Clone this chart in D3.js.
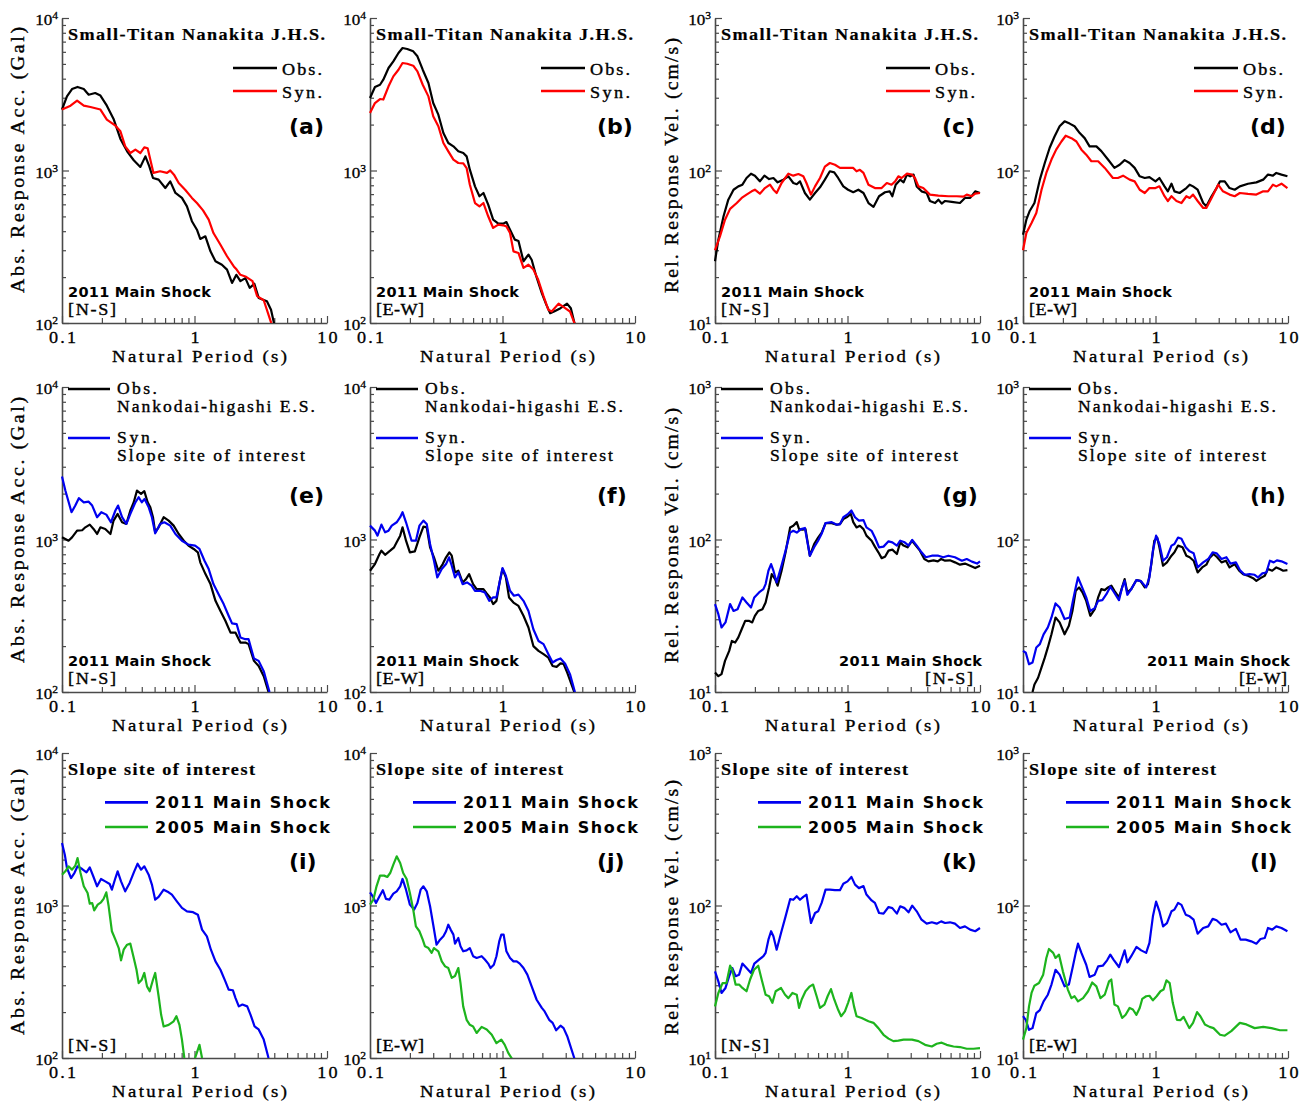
<!DOCTYPE html>
<html>
<head>
<meta charset="utf-8">
<script src="https://cdn.jsdelivr.net/npm/d3@7"></script>
<style>
  body { margin: 0; background: #fff; }
  svg { display: block; }
</style>
</head>
<body>
<svg id="fig" width="1311" height="1106"></svg>
<script>
// ---------------------------------------------------------------
// Response spectra (h = 5%), natural period [s] vs. spectral value
// ---------------------------------------------------------------
const periodTicks = [0.1, 1, 10];
const periodTickLabels = ["0.1", "1", "10"];
const accDomain = [100, 10000];   // Gal
const velDomain = [10, 1000];     // cm/s

// (a) Small-Titan Nanakita J.H.S., absolute acceleration, N-S
const aObs = [[0.1,2510],[0.109,3060],[0.119,3420],[0.131,3530],[0.146,3420],[0.159,3140],[0.178,3220],[0.195,3100],[0.218,2660],[0.245,2180],[0.276,1610],[0.31,1336],[0.348,1167],[0.39,1055],[0.426,1238],[0.456,1065],[0.486,893],[0.536,871],[0.602,768],[0.656,849],[0.718,712],[0.804,661],[0.877,582],[0.956,465],[1.043,409],[1.105,356],[1.208,370],[1.32,295],[1.44,254],[1.61,241],[1.76,224],[1.92,183],[2.07,207],[2.22,188],[2.42,197],[2.61,170],[2.83,181],[3.05,146],[3.52,139],[3.78,122],[4.0,98]];
const aSyn = [[0.1,2510],[0.116,2660],[0.13,2870],[0.146,2660],[0.164,2610],[0.195,2510],[0.218,2155],[0.253,1968],[0.276,1807],[0.3,1440],[0.328,1302],[0.358,1371],[0.39,1302],[0.418,1419],[0.443,1400],[0.49,964],[0.55,988],[0.62,964],[0.656,1000],[0.7,939],[0.76,828],[0.85,748],[0.956,661],[1.043,612],[1.16,548],[1.28,476],[1.39,389],[1.57,326],[1.76,274],[1.98,235],[2.08,224],[2.22,207],[2.42,202],[2.74,188],[2.97,150],[3.33,141],[3.78,101],[3.84,98]];

// (b) Small-Titan Nanakita J.H.S., absolute acceleration, E-W
const bObs = [[0.1,2985],[0.109,3530],[0.119,3650],[0.126,3940],[0.138,4700],[0.15,5200],[0.164,5895],[0.176,6355],[0.191,6265],[0.212,6045],[0.228,5610],[0.25,4580],[0.276,3750],[0.3,2770],[0.328,2323],[0.358,1762],[0.39,1514],[0.426,1440],[0.464,1336],[0.506,1302],[0.536,1238],[0.567,1013],[0.62,787],[0.67,678],[0.718,712],[0.78,597],[0.85,476],[0.93,448],[1.01,448],[1.07,459],[1.14,409],[1.24,352],[1.32,345],[1.44,254],[1.57,281],[1.66,260],[1.8,202],[1.98,157],[2.14,132],[2.29,116],[2.45,119],[2.74,125],[3.07,134],[3.28,125],[3.48,101],[3.52,97]];
const bSyn = [[0.1,2382],[0.109,2770],[0.119,2942],[0.126,2920],[0.138,3565],[0.15,4143],[0.164,4580],[0.176,5070],[0.191,5010],[0.212,4867],[0.228,4467],[0.25,3650],[0.276,3062],[0.3,2265],[0.328,1950],[0.358,1514],[0.39,1336],[0.426,1178],[0.464,1120],[0.506,1112],[0.536,1038],[0.567,807],[0.62,612],[0.67,582],[0.718,612],[0.78,501],[0.85,420],[0.93,442],[1.01,437],[1.07,430],[1.14,389],[1.21,295],[1.32,288],[1.44,230],[1.57,241],[1.71,224],[1.86,192],[2.04,150],[2.22,122],[2.35,119],[2.65,134],[2.97,125],[3.23,119],[3.52,98]];

// (c) Small-Titan Nanakita J.H.S., relative velocity, N-S
const cObs = [[0.1,25.4],[0.106,35.2],[0.116,50.1],[0.126,64.4],[0.138,74.8],[0.15,78.7],[0.161,80.7],[0.173,89.3],[0.187,95.3],[0.2,92.5],[0.218,84.9],[0.236,92.5],[0.256,87.9],[0.276,89.3],[0.297,83.6],[0.328,87.1],[0.358,91.6],[0.39,82.8],[0.414,81.3],[0.438,84.9],[0.477,71.2],[0.52,64.4],[0.569,71.2],[0.62,77.6],[0.675,87.1],[0.736,98.8],[0.794,97.2],[0.85,89.3],[0.93,78.7],[1.01,74.8],[1.105,72],[1.208,74.8],[1.32,71.2],[1.44,61.2],[1.57,57.7],[1.73,67.8],[1.92,72],[2.08,73],[2.18,67.8],[2.31,80.7],[2.5,87.1],[2.65,83.6],[2.81,94],[2.97,91.6],[3.15,94],[3.33,78.7],[3.62,73],[3.96,71.2],[4.19,63.1],[4.58,61.2],[4.85,64.4],[5.14,60.7],[5.45,63.1],[6.11,62.3],[7.06,61.2],[7.7,66.1],[8.43,66.1],[9.2,73],[10,71.2]];
const cSyn = [[0.1,30],[0.109,37],[0.119,47.6],[0.13,56],[0.146,61.2],[0.159,66.1],[0.173,69.5],[0.189,73],[0.2,74.8],[0.218,70.5],[0.238,76.7],[0.26,80.7],[0.276,74.8],[0.292,71.2],[0.318,82.8],[0.358,95.3],[0.39,92.5],[0.426,94.8],[0.464,91.6],[0.49,82.8],[0.53,69.5],[0.569,78.7],[0.62,89.3],[0.675,106],[0.736,112],[0.804,109],[0.877,104],[0.98,104],[1.105,104],[1.17,98.8],[1.24,101],[1.32,96.4],[1.44,80.7],[1.61,76.7],[1.81,76.7],[1.98,82.8],[2.15,80.7],[2.29,84.9],[2.42,91.6],[2.56,89.3],[2.81,95.3],[3.07,94],[3.23,89.3],[3.43,78.7],[3.73,76.7],[4.19,69.5],[4.85,68.4],[5.77,67.8],[6.68,67.8],[7.5,67.4],[7.94,69.5],[8.69,67.8],[9.2,70.5],[10,71.2]];

// (d) Small-Titan Nanakita J.H.S., relative velocity, E-W
const dObs = [[0.1,37.9],[0.106,47.6],[0.112,54],[0.122,61.2],[0.134,87.1],[0.146,112],[0.159,141],[0.173,167],[0.189,195],[0.206,210],[0.225,203],[0.245,195],[0.268,176],[0.292,163],[0.318,144],[0.358,144],[0.39,134],[0.438,118],[0.49,104],[0.536,109],[0.585,117],[0.638,112],[0.696,104],[0.76,91.6],[0.83,89.3],[0.9,90.5],[1.0,84.9],[1.07,89.3],[1.17,78.7],[1.24,73],[1.32,81.9],[1.39,73],[1.52,71.2],[1.71,76.7],[1.81,80.7],[1.92,78.7],[2.08,74.8],[2.29,61.2],[2.42,58.2],[2.65,67.8],[2.89,76.7],[3.07,84.9],[3.33,84.9],[3.62,76.7],[3.96,74.8],[4.33,78.7],[4.99,81.9],[5.77,83.6],[6.5,87.1],[7.06,94],[7.7,92.5],[8.16,96.4],[8.93,94],[9.9,91.6]];
const dSyn = [[0.1,30],[0.106,38.9],[0.116,45.3],[0.126,52.6],[0.138,74.8],[0.15,96.4],[0.164,118],[0.178,137],[0.195,155],[0.21,169],[0.232,163],[0.253,155],[0.276,137],[0.3,127],[0.328,115],[0.369,115],[0.414,104],[0.477,89.3],[0.52,89.3],[0.569,92.5],[0.638,87.1],[0.696,84.9],[0.76,74.8],[0.83,71.2],[0.9,76.7],[1.0,76.7],[1.07,78.7],[1.17,67.8],[1.24,63.1],[1.32,67.8],[1.44,63.1],[1.57,61.2],[1.71,67.8],[1.81,66.1],[1.92,69.5],[2.08,63.1],[2.29,56.8],[2.42,56.8],[2.65,66.1],[2.97,80.7],[3.23,73],[3.62,69.5],[3.96,67.8],[4.33,71.2],[4.99,70.2],[5.77,69.5],[6.5,73],[7.06,73],[7.7,80.7],[8.16,78.7],[8.93,81.9],[9.9,76.7]];

// (e) Nankodai-higashi E.S. obs. vs. slope site syn., acceleration, N-S
const eObs = [[0.1,1033],[0.106,1007],[0.112,982],[0.119,1033],[0.13,1143],[0.142,1150],[0.15,1202],[0.162,1252],[0.173,1173],[0.184,1087],[0.195,1202],[0.212,1173],[0.232,1087],[0.245,1330],[0.263,1472],[0.284,1297],[0.306,1265],[0.328,1549],[0.348,1754],[0.368,2094],[0.395,1992],[0.418,2075],[0.443,1754],[0.464,1627],[0.486,1400],[0.505,1114],[0.536,1202],[0.585,1400],[0.638,1330],[0.696,1233],[0.76,1087],[0.83,982],[0.9,912],[0.986,867],[1.06,824],[1.105,708],[1.21,593],[1.32,510],[1.44,396],[1.57,340],[1.71,293],[1.87,245],[2.04,245],[2.22,211],[2.42,211],[2.56,206],[2.81,160],[3.05,148],[3.33,127],[3.62,100],[3.68,96]];
const eSyn = [[0.1,2588],[0.106,2094],[0.118,1510],[0.126,1669],[0.134,1866],[0.146,1754],[0.159,1770],[0.169,1669],[0.184,1400],[0.198,1510],[0.216,1456],[0.234,1297],[0.253,1549],[0.265,1669],[0.284,1400],[0.306,1265],[0.328,1472],[0.358,1754],[0.379,1892],[0.4,1754],[0.42,1845],[0.451,1627],[0.477,1400],[0.505,1098],[0.55,1265],[0.592,1297],[0.656,1233],[0.718,1087],[0.804,982],[0.9,925],[1.01,912],[1.09,867],[1.19,726],[1.28,640],[1.39,510],[1.52,438],[1.66,377],[1.81,316],[1.92,282],[2.08,279],[2.22,228],[2.42,222],[2.56,222],[2.81,166],[3.05,160],[3.33,137],[3.68,100],[3.72,97]];

// (f) Nankodai-higashi E.S. obs. vs. slope site syn., acceleration, E-W
const fObs = [[0.1,624],[0.109,690],[0.118,803],[0.122,845],[0.13,794],[0.142,845],[0.152,889],[0.159,958],[0.169,1060],[0.176,1202],[0.187,982],[0.2,824],[0.218,835],[0.236,1033],[0.253,1214],[0.268,1202],[0.284,889],[0.304,764],[0.328,624],[0.354,690],[0.375,764],[0.397,824],[0.414,783],[0.438,608],[0.464,624],[0.5,523],[0.53,550],[0.56,593],[0.6,510],[0.638,473],[0.718,473],[0.76,443],[0.804,417],[0.85,377],[0.9,396],[0.956,536],[1.0,640],[1.06,564],[1.12,417],[1.21,386],[1.32,367],[1.44,316],[1.57,265],[1.71,200],[1.87,186],[2.04,177],[2.22,168],[2.39,148],[2.56,146],[2.74,154],[2.89,153],[3.08,134],[3.48,100],[3.52,97]];
const fSyn = [[0.1,1233],[0.109,1143],[0.114,1060],[0.122,1252],[0.13,1114],[0.138,1143],[0.146,1233],[0.159,1297],[0.169,1400],[0.176,1510],[0.187,1297],[0.206,982],[0.222,982],[0.236,1233],[0.253,1330],[0.268,1265],[0.284,934],[0.304,726],[0.322,564],[0.348,640],[0.375,690],[0.395,764],[0.414,673],[0.438,564],[0.464,608],[0.5,510],[0.54,523],[0.585,498],[0.62,461],[0.675,461],[0.736,450],[0.794,396],[0.85,417],[0.9,417],[0.956,536],[1.0,650],[1.06,578],[1.14,461],[1.22,428],[1.32,435],[1.44,396],[1.57,340],[1.71,258],[1.87,216],[2.04,206],[2.22,177],[2.39,156],[2.56,162],[2.74,166],[2.97,153],[3.23,131],[3.52,100],[3.56,97]];

// (g) Nankodai-higashi E.S. obs. vs. slope site syn., velocity, N-S
const gObs = [[0.1,13.4],[0.106,12.7],[0.112,13.1],[0.119,16],[0.128,18.6],[0.134,21.6],[0.142,21.1],[0.15,22.8],[0.159,25.8],[0.169,29.3],[0.18,29.3],[0.191,28.6],[0.2,31.6],[0.212,34],[0.228,34.9],[0.241,38.6],[0.256,48.5],[0.268,59.3],[0.284,55],[0.297,49.8],[0.318,62.4],[0.341,82.4],[0.369,120],[0.39,123],[0.414,130],[0.431,117],[0.456,116],[0.482,117],[0.52,78.3],[0.56,93.4],[0.6,103],[0.638,111],[0.683,128],[0.76,128],[0.83,125],[0.877,126],[0.93,136],[1.0,141],[1.06,147],[1.105,130],[1.17,120],[1.24,123],[1.32,117],[1.39,106],[1.52,98.2],[1.61,89.8],[1.71,82.4],[1.81,75.5],[1.92,77.1],[2.04,84.5],[2.18,85.8],[2.36,80.3],[2.5,95.8],[2.65,91.2],[2.84,88.9],[3.07,98.2],[3.28,91.2],[3.52,84.5],[3.8,74.5],[4.08,71.9],[4.46,73],[4.8,71.9],[5.09,74.5],[5.45,72.6],[5.93,73],[6.47,70.8],[7.06,68.4],[7.7,69.5],[8.43,67.3],[9.2,65],[10,67.3]];
const gSyn = [[0.1,37.7],[0.106,32.4],[0.112,26.5],[0.12,28.6],[0.13,37.7],[0.138,34],[0.148,34.9],[0.161,41.7],[0.173,38.6],[0.187,35.8],[0.198,41.7],[0.215,45],[0.232,47.3],[0.241,51],[0.253,62.4],[0.265,69],[0.276,62.4],[0.292,52.3],[0.315,65.6],[0.341,84.5],[0.369,111],[0.39,114],[0.414,111],[0.446,117],[0.477,119],[0.52,78.3],[0.56,88.9],[0.6,98.2],[0.638,109],[0.683,128],[0.76,130],[0.83,125],[0.877,126],[0.93,140],[1.0,146],[1.07,155],[1.14,140],[1.22,133],[1.32,134],[1.39,120],[1.52,114],[1.61,103],[1.73,88.9],[1.87,89.8],[2.04,97.3],[2.18,95.8],[2.36,91.2],[2.5,98.2],[2.7,95.8],[2.89,91.2],[3.08,99.3],[3.33,91.2],[3.62,82.4],[3.9,76.5],[4.33,78.3],[4.85,78.3],[5.28,76.5],[5.77,78.3],[6.47,76.5],[7.3,72.6],[7.94,74.5],[8.69,71.6],[9.5,69.5],[10,71.9]];

// (h) Nankodai-higashi E.S. obs. vs. slope site syn., velocity, E-W
const hObs = [[0.113,8.8],[0.118,10],[0.122,11.2],[0.13,12.4],[0.138,14.5],[0.146,16.8],[0.154,19.6],[0.164,23.9],[0.176,30.8],[0.189,28.6],[0.206,23.9],[0.222,27.2],[0.236,34],[0.25,46.1],[0.265,48.5],[0.281,45],[0.3,39.6],[0.322,31.6],[0.348,34.9],[0.369,41.7],[0.39,47.3],[0.414,46.6],[0.438,48.5],[0.464,49.8],[0.49,46.1],[0.53,41.7],[0.56,48.5],[0.585,55],[0.613,45],[0.656,47.3],[0.718,54.2],[0.77,53.6],[0.83,48.5],[0.877,50.9],[0.93,69],[0.98,98.2],[1.03,103],[1.07,88.9],[1.14,67.3],[1.22,70.8],[1.32,78.3],[1.39,82.4],[1.48,91.2],[1.6,88.9],[1.71,78.3],[1.81,76.5],[1.94,72.6],[2.08,60.8],[2.25,65.6],[2.42,68.4],[2.56,75.5],[2.74,80.3],[2.92,76.5],[3.15,70.8],[3.4,72.6],[3.62,65.6],[3.96,69],[4.28,62.4],[4.58,59.3],[4.99,57.8],[5.45,55.8],[5.77,53.6],[6.2,55.8],[6.68,57.8],[7.06,64],[7.6,62.4],[8.16,65.6],[8.69,64],[9.2,62.4],[9.9,63]];
const hSyn = [[0.1,18.6],[0.105,18.1],[0.111,15.2],[0.118,15.6],[0.126,19.6],[0.134,20.6],[0.143,23.9],[0.154,26.5],[0.164,30.8],[0.176,38.1],[0.189,35.8],[0.206,30.1],[0.225,30.8],[0.238,39.6],[0.25,48.5],[0.26,56.4],[0.276,49.8],[0.3,41.7],[0.322,34],[0.348,35.5],[0.369,39.6],[0.397,40],[0.426,43.8],[0.456,49],[0.482,45.6],[0.53,40],[0.56,48.5],[0.585,53.6],[0.613,43.4],[0.656,47.3],[0.718,54.2],[0.78,53.1],[0.85,48.5],[0.9,56.4],[0.956,84.5],[1.01,106],[1.07,93.4],[1.14,72.6],[1.22,76.5],[1.32,91.2],[1.39,93.4],[1.48,103],[1.57,101],[1.69,88.9],[1.81,83.6],[1.94,81.2],[2.08,65.6],[2.29,70.8],[2.5,74.5],[2.7,82.4],[2.89,81.2],[3.15,74.5],[3.43,76.5],[3.68,69.5],[4.04,70.8],[4.33,63],[4.71,58.7],[5.14,59.3],[5.6,58.7],[5.93,56.4],[6.4,60],[6.86,60.8],[7.3,72.6],[7.8,70.8],[8.25,73],[8.93,71.9],[9.9,69]];

// (i) Slope site of interest, 2011 vs. 2005 main shock, acceleration, N-S
const i2011 = [[0.1,2570],[0.105,2155],[0.109,1762],[0.117,1514],[0.124,1633],[0.131,1807],[0.142,1735],[0.153,1650],[0.162,1778],[0.173,1538],[0.184,1336],[0.197,1493],[0.212,1440],[0.229,1384],[0.238,1270],[0.253,1514],[0.263,1675],[0.279,1440],[0.3,1238],[0.324,1406],[0.351,1675],[0.372,1880],[0.395,1718],[0.418,1807],[0.451,1592],[0.477,1371],[0.505,1092],[0.536,1138],[0.585,1270],[0.638,1220],[0.675,1178],[0.736,1065],[0.804,964],[0.877,916],[0.975,904],[1.06,871],[1.14,695],[1.24,628],[1.33,513],[1.44,430],[1.57,379],[1.71,318],[1.81,281],[1.95,278],[2.04,247],[2.16,218],[2.3,224],[2.5,218],[2.65,192],[2.84,161],[3.05,154],[3.33,132],[3.62,100],[3.66,97]];
const i2005 = [[0.1,1592],[0.106,1675],[0.112,1807],[0.119,1718],[0.126,1824],[0.131,2048],[0.138,1633],[0.146,1336],[0.156,1208],[0.162,1028],[0.169,1038],[0.175,929],[0.186,1013],[0.197,1050],[0.206,1104],[0.216,1220],[0.225,988],[0.238,678],[0.253,597],[0.268,526],[0.279,437],[0.292,513],[0.31,553],[0.328,562],[0.348,453],[0.365,379],[0.379,310],[0.4,326],[0.418,361],[0.438,295],[0.459,274],[0.486,326],[0.505,361],[0.536,254],[0.56,192],[0.585,161],[0.638,165],[0.696,174],[0.73,188],[0.77,165],[0.804,132],[0.838,100],[0.87,87],[0.93,84],[0.98,92],[1.01,100],[1.09,122],[1.14,100],[1.2,86]];

// (j) Slope site of interest, 2011 vs. 2005 main shock, acceleration, E-W
const j2011 = [[0.1,1220],[0.105,1148],[0.111,1038],[0.118,1148],[0.125,1259],[0.132,1104],[0.14,1092],[0.15,1197],[0.159,1238],[0.169,1336],[0.176,1493],[0.187,1270],[0.2,1013],[0.215,939],[0.228,1038],[0.241,1270],[0.253,1336],[0.268,1238],[0.284,988],[0.3,748],[0.318,553],[0.338,597],[0.358,628],[0.375,678],[0.39,748],[0.406,695],[0.426,644],[0.438,562],[0.464,612],[0.482,540],[0.505,501],[0.536,508],[0.567,526],[0.6,465],[0.638,453],[0.696,465],[0.736,442],[0.78,416],[0.812,389],[0.86,409],[0.9,465],[0.945,582],[0.98,644],[1.02,644],[1.07,501],[1.14,453],[1.21,430],[1.28,430],[1.35,416],[1.44,389],[1.54,352],[1.66,295],[1.81,241],[1.98,213],[2.08,202],[2.25,178],[2.39,170],[2.54,152],[2.74,163],[2.89,157],[3.08,139],[3.48,100],[3.52,97]];
const j2005 = [[0.1,1013],[0.106,1092],[0.112,1336],[0.119,1570],[0.128,1570],[0.135,1538],[0.142,1633],[0.15,1854],[0.159,2101],[0.169,1901],[0.178,1633],[0.189,1493],[0.2,1208],[0.212,939],[0.222,730],[0.236,678],[0.25,597],[0.26,540],[0.276,526],[0.292,489],[0.304,526],[0.328,501],[0.348,430],[0.369,399],[0.39,389],[0.414,335],[0.438,345],[0.464,389],[0.482,310],[0.505,218],[0.536,178],[0.567,165],[0.6,161],[0.638,146],[0.696,160],[0.76,154],[0.83,142],[0.9,125],[0.98,132],[1.04,122],[1.105,108],[1.17,100],[1.22,92]];

// (k) Slope site of interest, 2011 vs. 2005 main shock, velocity, N-S
const k2011 = [[0.1,37],[0.106,31.8],[0.112,26.7],[0.12,28.8],[0.128,34.4],[0.135,38.9],[0.143,34.4],[0.152,35.2],[0.161,41.6],[0.173,38.9],[0.187,36.1],[0.198,41.6],[0.215,44.2],[0.232,46.5],[0.241,48.9],[0.253,59.7],[0.265,67.8],[0.276,62.8],[0.292,51.3],[0.315,66.1],[0.341,84.9],[0.369,110],[0.39,109],[0.414,115],[0.438,109],[0.464,114],[0.49,118],[0.53,76.8],[0.569,89.3],[0.6,91.6],[0.638,104],[0.683,127],[0.736,127],[0.804,126],[0.877,126],[0.93,139],[1.0,144],[1.07,154],[1.14,137],[1.22,130],[1.32,134],[1.39,118],[1.52,108],[1.61,104],[1.73,89.3],[1.87,88.5],[2.04,97.7],[2.18,96.1],[2.36,88.5],[2.5,98.8],[2.7,96.1],[2.89,90.2],[3.08,99.8],[3.33,91.6],[3.62,80.7],[3.96,76],[4.33,77.6],[4.71,76],[5.09,78.7],[5.45,76.8],[5.93,77.6],[6.47,76],[7.06,71.2],[7.7,73],[8.43,69.5],[9.2,67.8],[10,71.2]];
const k2005 = [[0.1,21.8],[0.106,26.7],[0.114,31],[0.122,31],[0.13,40.3],[0.135,37.9],[0.143,30.3],[0.152,30.3],[0.161,28.8],[0.173,27.4],[0.184,32.7],[0.197,37.9],[0.212,40.3],[0.225,32.7],[0.241,26],[0.256,25.4],[0.271,23],[0.287,27.4],[0.315,28.8],[0.338,26],[0.358,24.7],[0.384,26.7],[0.414,26],[0.431,21.3],[0.451,24.2],[0.482,27.4],[0.52,29.5],[0.55,30.3],[0.585,25.4],[0.62,21.3],[0.67,22.4],[0.708,25.4],[0.75,28.3],[0.794,24.2],[0.85,20.7],[0.895,18.8],[0.956,20.2],[1.01,23],[1.07,26.7],[1.12,21.8],[1.17,18.8],[1.28,18.3],[1.44,17.4],[1.57,17],[1.71,15.7],[1.87,14.2],[2.04,13.4],[2.22,12.9],[2.42,13],[2.65,13.2],[3.07,13.2],[3.43,12.9],[3.85,12.2],[4.33,11.9],[4.71,12.4],[5.14,12.6],[5.6,12.2],[6.31,11.9],[7.06,11.8],[7.94,11.5],[8.93,11.5],[10,11.6]];

// (l) Slope site of interest, 2011 vs. 2005 main shock, velocity, E-W
const l2011 = [[0.1,18.8],[0.105,17.8],[0.111,15.3],[0.118,15.7],[0.126,19.7],[0.134,20.6],[0.143,23.5],[0.154,26],[0.164,30.3],[0.176,37.9],[0.189,35.2],[0.206,29.5],[0.222,30.3],[0.238,39.9],[0.25,48.9],[0.26,56.2],[0.276,48.9],[0.3,40.9],[0.318,34],[0.348,35.2],[0.369,39.9],[0.4,40.3],[0.431,43.7],[0.456,47.6],[0.482,44.2],[0.53,39.5],[0.56,45.3],[0.585,50.8],[0.613,42.4],[0.656,46.5],[0.718,53.5],[0.78,50.8],[0.85,48.9],[0.9,56.8],[0.956,84.9],[1.01,106],[1.07,91.6],[1.14,73],[1.22,76.7],[1.32,91.6],[1.39,94],[1.48,104],[1.57,101],[1.69,87.1],[1.81,84.9],[1.94,80.7],[2.08,65.3],[2.29,71.2],[2.5,73],[2.7,81.7],[2.89,80],[3.15,74.8],[3.4,76],[3.68,66.7],[4.04,70.2],[4.38,59.7],[4.79,59.7],[5.28,58.2],[5.77,56.2],[6.2,60.3],[6.68,61.2],[7.06,71.2],[7.6,69.5],[8.16,73],[8.93,71.2],[9.9,67.8]];
const l2005 = [[0.1,13.2],[0.106,15.7],[0.111,21.8],[0.116,26.7],[0.122,29.8],[0.132,31],[0.142,35.2],[0.15,45.3],[0.157,51.9],[0.169,48.9],[0.176,45.3],[0.187,47.6],[0.2,37],[0.218,28.1],[0.232,24.7],[0.245,25.4],[0.26,23.5],[0.284,24.7],[0.31,27.4],[0.333,31.3],[0.358,29.5],[0.384,24.7],[0.414,26],[0.446,31.8],[0.464,32.7],[0.49,22.4],[0.52,21.8],[0.56,18.3],[0.595,19.2],[0.638,21.3],[0.675,20.8],[0.718,19.2],[0.76,21.3],[0.794,24.4],[0.85,25.4],[0.9,25.6],[0.956,23.9],[1.02,25.4],[1.09,27.4],[1.15,28.1],[1.21,32.3],[1.28,31],[1.35,23],[1.45,17.8],[1.54,17.7],[1.63,18.6],[1.8,15.7],[1.92,17],[2.06,20],[2.18,18.8],[2.36,16.6],[2.56,16],[2.74,15.7],[3.07,14.2],[3.33,14],[3.73,15],[4.33,17],[4.85,16.6],[5.6,15.7],[6.5,16],[7.5,15.7],[8.69,15.2],[9.9,15.2]];

// ---------------------------------------------------------------
// Layout and styling
// ---------------------------------------------------------------
const SERIF = '"Liberation Serif", "Times New Roman", Times, serif';
const SANS = '"DejaVu Sans", Verdana, sans-serif';
const AXIS_COLOR = "#4a4a4a";
const COLORS = { obs: "#000000", syn: "#ff0000", slope: "#0000f0", y2005: "#1db41d" };
const SERIF_STRETCH = 1.1;   // serif labels are set slightly wide

const PW = 265, PH = 305;
const colX = [62, 370, 715, 1023];
const rowY = [18, 387, 753];
const yTitleStart = [293, 663, 1035];

const panels = [
  { id: "a", row: 0, col: 0, kind: "acc", comp: "[N-S]", lines: [[aObs, COLORS.obs], [aSyn, COLORS.syn]] },
  { id: "b", row: 0, col: 1, kind: "acc", comp: "[E-W]", lines: [[bObs, COLORS.obs], [bSyn, COLORS.syn]] },
  { id: "c", row: 0, col: 2, kind: "vel", comp: "[N-S]", lines: [[cObs, COLORS.obs], [cSyn, COLORS.syn]] },
  { id: "d", row: 0, col: 3, kind: "vel", comp: "[E-W]", lines: [[dObs, COLORS.obs], [dSyn, COLORS.syn]] },
  { id: "e", row: 1, col: 0, kind: "acc", comp: "[N-S]", lines: [[eObs, COLORS.obs], [eSyn, COLORS.slope]] },
  { id: "f", row: 1, col: 1, kind: "acc", comp: "[E-W]", lines: [[fObs, COLORS.obs], [fSyn, COLORS.slope]] },
  { id: "g", row: 1, col: 2, kind: "vel", comp: "[N-S]", lines: [[gObs, COLORS.obs], [gSyn, COLORS.slope]], right: true, compEnd: 258 },
  { id: "h", row: 1, col: 3, kind: "vel", comp: "[E-W]", lines: [[hObs, COLORS.obs], [hSyn, COLORS.slope]], right: true, compEnd: 264 },
  { id: "i", row: 2, col: 0, kind: "acc", comp: "[N-S]", lines: [[i2011, COLORS.slope], [i2005, COLORS.y2005]] },
  { id: "j", row: 2, col: 1, kind: "acc", comp: "[E-W]", lines: [[j2011, COLORS.slope], [j2005, COLORS.y2005]] },
  { id: "k", row: 2, col: 2, kind: "vel", comp: "[N-S]", lines: [[k2011, COLORS.slope], [k2005, COLORS.y2005]] },
  { id: "l", row: 2, col: 3, kind: "vel", comp: "[E-W]", lines: [[l2011, COLORS.slope], [l2005, COLORS.y2005]] }
];

const svg = d3.select("#fig");
const defs = svg.append("defs");

// text helper: serif labels get a slight horizontal stretch and a hairline stroke for weight
function label(g, str, x, y, o) {
  const sx = o.sans ? 1 : SERIF_STRETCH;
  const holder = g.append("g").attr("transform", `translate(${x},${y}) scale(${sx},1)`);
  const t = holder.append("text")
    .attr("x", 0).attr("y", 0)
    .attr("font-family", o.sans ? SANS : SERIF)
    .attr("font-size", o.size)
    .attr("font-weight", o.bold ? "bold" : "normal")
    .attr("text-anchor", o.anchor || "start")
    .attr("fill", "#000")
    .text(str);
  if (!o.sans) t.attr("stroke", "#000").attr("stroke-width", o.bold ? 0.2 : 0.35);
  if (o.len) t.attr("textLength", o.len / sx).attr("lengthAdjust", "spacing");
  return t;
}

function legendLine(g, x1, x2, y, color) {
  g.append("line").attr("x1", x1).attr("x2", x2).attr("y1", y).attr("y2", y)
    .attr("stroke", color).attr("stroke-width", 2.6);
}

function minorTicks(domain) {
  const out = [];
  for (let p = Math.log10(domain[0]); p < Math.log10(domain[1]); p++) {
    for (let m = 2; m <= 9; m++) out.push(m * Math.pow(10, p));
  }
  return out;
}
function majorTicks(domain) {
  const out = [];
  for (let p = Math.log10(domain[0]); p <= Math.log10(domain[1]); p++) out.push(Math.pow(10, p));
  return out;
}

function styleAxis(sel) {
  sel.select(".domain").attr("stroke", AXIS_COLOR).attr("stroke-width", 1.6);
  sel.selectAll(".tick line").attr("stroke", AXIS_COLOR).attr("stroke-width", 1.2);
}

panels.forEach(p => {
  const x0 = colX[p.col], y0 = rowY[p.row];
  const yDomain = p.kind === "acc" ? accDomain : velDomain;
  const x = d3.scaleLog().domain([0.1, 10]).range([0, PW]);
  const y = d3.scaleLog().domain(yDomain).range([PH, 0]);
  const g = svg.append("g").attr("transform", `translate(${x0},${y0})`);

  // clip region for the spectra
  defs.append("clipPath").attr("id", "clip-" + p.id)
    .append("rect").attr("x", -1).attr("y", -2).attr("width", PW + 3).attr("height", PH + 2);

  // minor ticks (inward)
  const yMinor = g.append("g").call(d3.axisLeft(y).tickValues(minorTicks(yDomain)).tickSize(-4).tickFormat(""));
  yMinor.select(".domain").remove();
  styleAxis(yMinor);
  const xMinor = g.append("g").attr("transform", `translate(0,${PH})`)
    .call(d3.axisBottom(x).tickValues(minorTicks([0.1, 10])).tickSize(-5).tickFormat(""));
  xMinor.select(".domain").remove();
  styleAxis(xMinor);

  // major ticks, axis lines and labels
  const yAx = g.append("g").call(
    d3.axisLeft(y).tickValues(majorTicks(yDomain)).tickSizeInner(-7).tickSizeOuter(0).tickPadding(4).tickFormat(() => "10"));
  styleAxis(yAx);
  yAx.selectAll(".tick text")
    .attr("x", -4 / SERIF_STRETCH).attr("transform", `scale(${SERIF_STRETCH},1)`)
    .attr("dy", 6.5).attr("font-family", SERIF).attr("font-size", 15.5).attr("fill", "#000")
    .attr("stroke", "#000").attr("stroke-width", 0.3)
    .append("tspan").attr("dy", -6).attr("font-size", 10.5).text(d => Math.round(Math.log10(d)));

  const xAx = g.append("g").attr("transform", `translate(0,${PH})`).call(
    d3.axisBottom(x).tickValues(periodTicks).tickSizeInner(-7).tickSizeOuter(0)
      .tickFormat((d, i) => periodTickLabels[i]));
  styleAxis(xAx);
  xAx.selectAll(".tick text")
    .attr("y", 20).attr("dy", 0).attr("dx", 1).attr("transform", `scale(${SERIF_STRETCH},1)`)
    .attr("font-family", SERIF).attr("font-size", 16.5)
    .attr("letter-spacing", 2).attr("fill", "#000")
    .attr("stroke", "#000").attr("stroke-width", 0.3);

  label(g, "Natural Period (s)", PW / 2 + 5, PH + 39, { size: 17, anchor: "middle", len: 175 });

  // spectra
  const line = d3.line().x(d => x(d[0])).y(d => y(d[1]));
  p.lines.forEach(([data, color]) => {
    g.append("path").datum(data)
      .attr("d", line)
      .attr("fill", "none").attr("stroke", color).attr("stroke-width", 2.2)
      .attr("stroke-linejoin", "round")
      .attr("clip-path", `url(#clip-${p.id})`);
  });

  // panel letter
  label(g, `(${p.id})`, 227, 115.5, { size: 22, bold: true, sans: true });

  if (p.row === 0) {
    label(g, "Small-Titan Nanakita J.H.S.", 6, 22, { size: 16.5, bold: true, len: 257 });
    legendLine(g, 171, 215, 50, COLORS.obs);
    legendLine(g, 171, 215, 73, COLORS.syn);
    label(g, "Obs.", 220, 57, { size: 16.5, len: 40 });
    label(g, "Syn.", 220, 80, { size: 16.5, len: 40 });
    label(g, "2011 Main Shock", 6, PH - 25.6, { size: 14.5, bold: true, sans: true, len: 143 });
    label(g, p.comp, 6, PH - 8, { size: 16.5, len: 48 });
  } else if (p.row === 1) {
    legendLine(g, 6, 48, 2, COLORS.obs);
    legendLine(g, 6, 48, 51, COLORS.slope);
    label(g, "Obs.", 55, 6.5, { size: 16, len: 40 });
    label(g, "Nankodai-higashi E.S.", 55, 24.5, { size: 16, len: 198 });
    label(g, "Syn.", 55, 55.5, { size: 16, len: 40 });
    label(g, "Slope site of interest", 55, 73.5, { size: 16, len: 188 });
    if (p.right) {
      label(g, "2011 Main Shock", PW + 2, PH - 26, { size: 14.5, bold: true, sans: true, len: 143, anchor: "end" });
      label(g, p.comp, p.compEnd, PH - 7.7, { size: 16.5, len: 48, anchor: "end" });
    } else {
      label(g, "2011 Main Shock", 6, PH - 26, { size: 14.5, bold: true, sans: true, len: 143 });
      label(g, p.comp, 6, PH - 7.7, { size: 16.5, len: 48 });
    }
  } else {
    label(g, "Slope site of interest", 6, 21.7, { size: 16.5, bold: true, len: 187 });
    legendLine(g, 43, 86, 49.4, COLORS.slope);
    legendLine(g, 43, 86, 74, COLORS.y2005);
    label(g, "2011 Main Shock", 93, 55, { size: 16, bold: true, sans: true, len: 175 });
    label(g, "2005 Main Shock", 93, 79.8, { size: 16, bold: true, sans: true, len: 175 });
    label(g, p.comp, 6, PH - 6.6, { size: 16.5, len: 48 });
  }

  // y-axis titles on the first and third columns
  if (p.col === 0 || p.col === 2) {
    const tx = p.col === 0 ? 24 : 678;
    const title = p.kind === "acc" ? "Abs. Response Acc. (Gal)" : "Rel. Response Vel. (cm/s)";
    const tl = p.kind === "acc" ? 266 : 255;
    const tg = svg.append("g").attr("transform", `translate(${tx},${yTitleStart[p.row]}) rotate(-90)`);
    label(tg, title, 0, 0, { size: 18, len: tl });
  }
});
</script>
</body>
</html>
